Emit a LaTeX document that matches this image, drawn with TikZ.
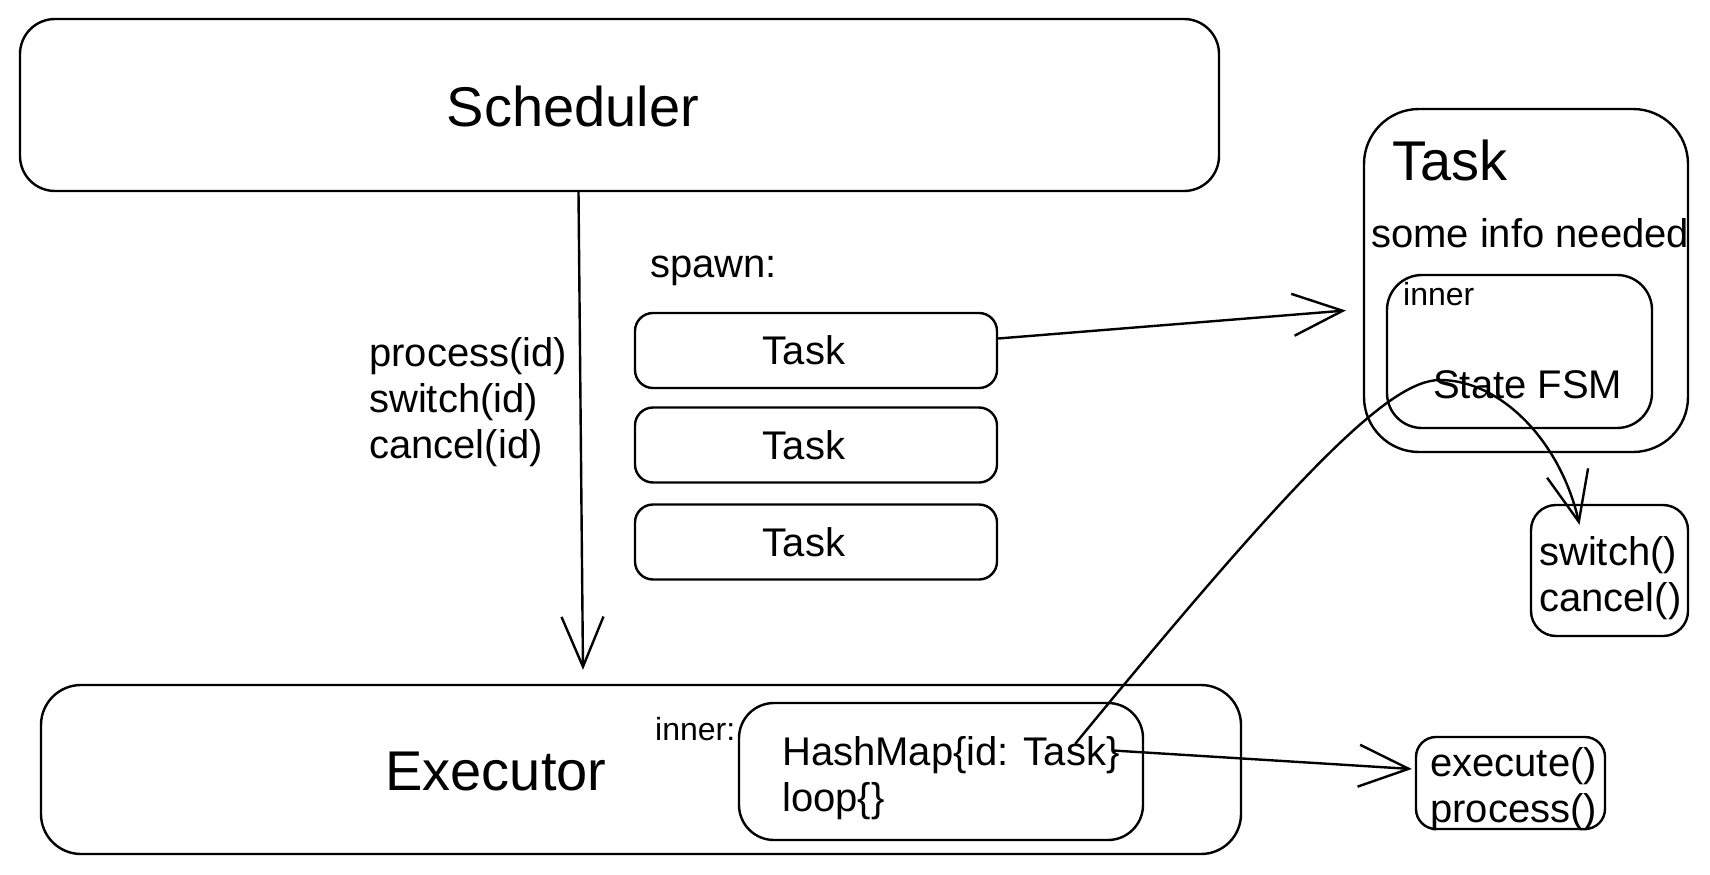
\documentclass[tikz,border=0pt]{standalone}
\usepackage{fontspec}
\setmainfont{Liberation Sans}
\usetikzlibrary{arrows.meta}
\tikzset{sketch/.style={x=1pt,y=-1pt,line width=2.4pt,font=\fontsize{40}{46}\selectfont,
    >={Straight Barb[length=50pt,width=42pt]}}}
\tikzset{rbox/.style={draw,rounded corners=#1,inner sep=0pt},rbox/.default=30pt,
    big/.style={font=\fontsize{56}{64}\selectfont},
    small/.style={font=\fontsize{32}{38}\selectfont},
    txt/.style={anchor=base west,inner sep=0pt,align=left}}

\begin{document}
\begin{tikzpicture}[sketch]
    \useasboundingbox (0,0) rectangle (1710,875);
    \def\tw{362}
    \node[rbox=35pt,minimum width=1199,minimum height=172] (sched) at (619.5,105) {};
    \node[rbox=40pt,minimum width=1200,minimum height=169] (exec) at (641,769.5) {};
    \node[rbox=35pt,minimum width=404,minimum height=137] (hm) at (941,771.5) {};
    \node[rbox=20pt,minimum width=189,minimum height=92] (exe) at (1510.5,783) {};
    \node[rbox=55pt,minimum width=324,minimum height=343] (taskbig) at (1526,280.5) {};
    \node[rbox=35pt,minimum width=265,minimum height=153] (inner) at (1519.5,351.5) {};
    \node[rbox=25pt,minimum width=157,minimum height=131] (sw) at (1609.5,570.5) {};
    \foreach \i/\y in {1/350.5,2/445,3/542} {
        \node[rbox=18pt,minimum width=\tw,minimum height=75] (t\i) at (816,\y) {};
        \node (t\i txt) at (804,\y) {Task};
    }
    \node[big] (schedtxt) at (573,106) {Scheduler};
    \node[big] (exectxt) at (496,771) {Executor};
    \node[big] (tasktitle) at (1450,160) {Task};
    % base of the last line for the multi-line ones
    \node[txt] (calls) at (368,458) {process(id)\\switch(id)\\cancel(id)};
    \node[txt] (spawn) at (649,277) {spawn:};
    \node[txt] (info) at (1370,247) {some info needed};
    \node[txt,small] (innerlbl) at (1402,305) {inner};
    \node[txt] (fsm) at (1432,398) {State FSM};
    \node[txt] (swtxt) at (1538,611) {switch()\\cancel()};
    \node[txt,small] (hmlbl) at (654,740) {inner:};
    \node[txt] (hmtxt) at (781,811) {HashMap\{id: Task\}\\loop\{\}};
    \node[txt] (exetxt) at (1429,822) {execute()\\process()};
    \draw[->] ([xshift=-41pt]sched.south) -- ([xshift=-58pt,yshift=14pt]exec.north);
    \draw[->] ([yshift=12pt]t1.east) -- ([xshift=-17pt,yshift=-30pt]taskbig.west);
    \draw[->] ([xshift=-31pt,yshift=21pt]hm.east) -- ([xshift=-3pt,yshift=14pt]exe.west);
    \draw[->] ([xshift=-69pt,yshift=-42pt]hm.north east) .. controls (1300,470) and (1390,380) .. (1440,380)
        .. controls (1500,380) and (1560,440) .. ([xshift=-30pt,yshift=-21pt]sw.north);
\end{tikzpicture}
\end{document}
